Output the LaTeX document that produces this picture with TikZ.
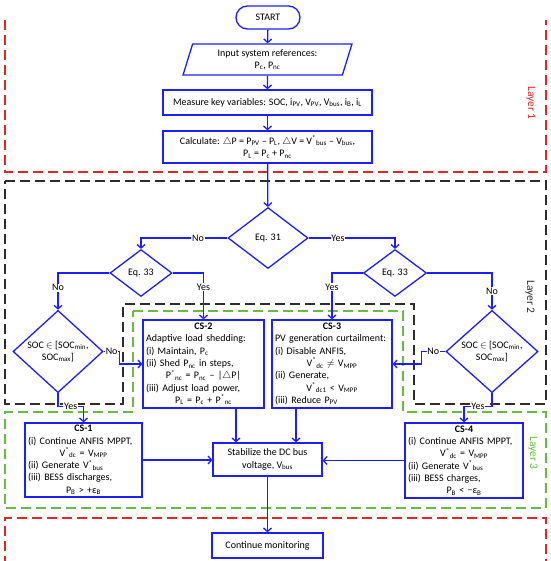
\documentclass[tikz,border=0pt]{standalone}
\usepackage{fontspec}
\setmainfont{Carlito}
\usetikzlibrary{shapes.geometric,arrows.meta,calc}
\definecolor{bblue}{RGB}{30,30,250}
\definecolor{lred}{RGB}{222,40,40}
\definecolor{lgray}{RGB}{45,45,45}
\definecolor{lgreen}{RGB}{105,188,65}
\newcommand\sbs[1]{\textsubscript{#1}}
\newcommand\sps[1]{\textsuperscript{#1}}
\newcommand\lft[1]{\makebox[\linewidth][l]{#1}}
\begin{document}
\begin{tikzpicture}[x=1pt,y=-1pt,
  fs/.style={font=\fontsize{10}{12.3}\selectfont},
  blk/.style={draw=bblue, line width=1.3pt, fs, align=center, inner sep=1pt},
  rbox/.style={blk, rectangle},
  dia/.style={blk, diamond, inner sep=0pt},
  csbox/.style={blk, rectangle, inner xsep=3pt, inner ysep=0.5pt},
  arr/.style={draw=bblue, line width=1.3pt, -{Straight Barb[length=3.5pt,width=8pt]}},
  lbl/.style={fill=white, inner sep=0.8pt, fs},
  lay/.style={line width=1.3pt, dash pattern=on 10pt off 5pt},
  layl/.style={font=\fontsize{11.5}{13}\selectfont, rotate=-90, inner sep=0pt}
]
\useasboundingbox (0,0) rectangle (550,561);

% layers
\draw[lay, lred] (5,20) -- (5,172) -- (546,172) -- (546,20);
\draw[lay, lgray] (5,181) -- (546,181) -- (546,404) -- (414,404) -- (414,304) -- (123,304) -- (123,404) -- (5,404) -- cycle;
\draw[lay, lgreen] (133,311) -- (403,311) -- (403,412) -- (546,412) -- (546,508) -- (5,508) -- (5,412) -- (133,412) -- cycle;
\draw[lay, lred] (5,566) -- (5,518) -- (546,518) -- (546,566);

\node[layl, text=lred] (l1) at (531,103) {Layer 1};
\node[layl, text=lgray] (l2) at (530,297) {Layer 2};
\node[layl, text=lgreen] (l3) at (533,453) {Layer 3};

% nodes
\node[rbox, rounded corners=11.5pt, minimum width=64, minimum height=23] (start) at (268,17.5) {START};
\node[blk, trapezium, trapezium left angle=74, trapezium right angle=106, trapezium stretches=true,
      minimum width=169, minimum height=31] (input) at (267.5,59.5) {Input system references:\\ P\sbs{c}, P\sbs{nc}};
\node[rbox, minimum width=209, minimum height=25] (meas) at (267.5,102.5)
  {Measure key variables: SOC, i\sbs{PV}, V\sbs{PV}, V\sbs{bus}, i\sbs{B}, i\sbs{L}};
\node[rbox, minimum width=209, minimum height=32] (calc) at (267.5,147)
  {Calculate: $\triangle$P = P\sbs{PV} – P\sbs{L}, $\triangle$V = V\sps{*}\sbs{bus} – V\sbs{bus},\\ P\sbs{L} = P\sbs{c} + P\sbs{nc}};

\node[dia, minimum width=80, minimum height=61] (eq31) at (268,238) {Eq. 31};
\node[dia, minimum width=62, minimum height=47] (eq33l) at (141,273) {Eq. 33};
\node[dia, minimum width=63, minimum height=47] (eq33r) at (395,273) {Eq. 33};
\node[dia, minimum width=90, minimum height=67] (socl) at (58,351.5) {SOC $\in$ [SOC\sbs{min},\\ SOC\sbs{max}]};
\node[dia, minimum width=92, minimum height=67] (socr) at (492,351.5) {SOC $\in$ [SOC\sbs{min},\\ SOC\sbs{max}]};

\node[csbox, text width=115, minimum height=88] (cs2) at (203.5,364)
  {\textbf{CS-2}\\ \lft{Adaptive load shedding:}\\ \lft{(i) Maintain, P\sbs{c}}\\ \lft{(ii) Shed P\sbs{nc} in steps,}\\
   P\sps{*}\sbs{nc} = P\sbs{nc} – |$\triangle$P|\\ \lft{(iii) Adjust load power,}\\ P\sbs{L} = P\sbs{c} + P\sps{*}\sbs{nc}};
\node[csbox, text width=114, minimum height=88] (cs3) at (332,364)
  {\textbf{CS-3}\\ \lft{PV generation curtailment:}\\ \lft{(i) Disable ANFIS,}\\ V\sps{*}\sbs{dc} $\neq$ V\sbs{MPP}\\
   \lft{(ii) Generate,}\\ V\sps{*}\sbs{dc1} < V\sbs{MPP}\\ \lft{(iii) Reduce P\sbs{PV}}};
\node[csbox, text width=111, minimum height=74] (cs1) at (83.5,460)
  {\textbf{CS-1}\\ \lft{(i) Continue ANFIS MPPT,}\\ V\sps{*}\sbs{dc} = V\sbs{MPP}\\ \lft{(ii) Generate V\sps{*}\sbs{bus}}\\
   \lft{(iii) BESS discharges,}\\ P\sbs{B} > +ε\sbs{B}};
\node[csbox, text width=112, minimum height=75] (cs4) at (464,460.5)
  {\textbf{CS-4}\\ \lft{(i) Continue ANFIS MPPT,}\\ V\sps{*}\sbs{dc} = V\sbs{MPP}\\ \lft{(ii) Generate V\sps{*}\sbs{bus}}\\
   \lft{(iii) BESS charges,}\\ P\sbs{B} < −ε\sbs{B}};
\node[rbox, minimum width=109, minimum height=33] (stab) at (267.5,459.5) {Stabilize the DC bus\\ voltage, V\sbs{bus}};
\node[rbox, minimum width=111, minimum height=25] (cont) at (267.5,545.5) {Continue monitoring};

\coordinate (c2) at (236,0);
\coordinate (c3) at (296,0);

% connectors
\draw[arr] (start) -- (input);
\draw[arr] (input) -- (meas);
\draw[arr] (meas) -- (calc);
\draw[arr] (calc) -- (eq31);
\draw[arr] (eq31.west) -| node[lbl, pos=0.17] {No} (eq33l.north);
\draw[arr] (eq31.east) -| node[lbl, pos=0.17] {Yes} (eq33r.north);
\draw[arr] (eq33l.west) -| node[lbl, pos=0.7] {No} (socl.north);
\draw[arr] (eq33l.east) -| node[lbl, pos=0.65] {Yes} (cs2.north);
\draw[arr] (eq33r.west) -| node[lbl, pos=0.65] {Yes} (cs3.north);
\draw[arr] (eq33r.east) -| node[lbl, pos=0.745] {No} (socr.north);
\draw[arr] (socl.east) -- ++(16,0) node[lbl, midway] {No} |- (cs2.west);
\draw[arr] (socr.west) -- ++(-24,0) node[lbl, midway] {No} |- (cs3.east);
\draw[arr] (socl.south) -- ++(0,13) -| node[lbl, pos=0.25] {Yes} (cs1.north);
\draw[arr] (socr.south) -- ++(0,13) -| node[lbl, pos=0.25] {Yes} (cs4.north);
\draw[arr] (c2 |- cs2.south) -- (c2 |- stab.north);
\draw[arr] (c3 |- cs3.south) -- (c3 |- stab.north);
\draw[arr] (cs1.east) -- (cs1.east -| stab.west);
\draw[arr] (cs4.west) -- (cs4.west -| stab.east);
\draw[arr] (stab) -- (cont);
\end{tikzpicture}
\end{document}
